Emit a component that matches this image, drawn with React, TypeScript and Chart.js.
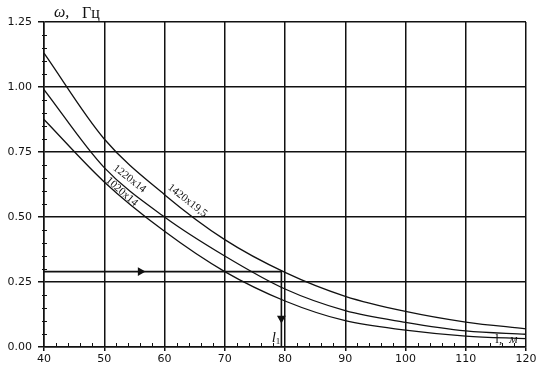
import React, { useEffect, useRef } from "react";
import { Chart, registerables } from "chart.js";

Chart.register(...registerables);

const lengths = [40, 50, 60, 70, 80, 90, 100, 110, 120];
const pipe1420 = [1.13, 0.8, 0.586, 0.413, 0.287, 0.195, 0.137, 0.096, 0.07];
const pipe1220 = [0.99, 0.69, 0.5, 0.35, 0.223, 0.14, 0.095, 0.062, 0.049];
const pipe1020 = [0.875, 0.635, 0.445, 0.29, 0.177, 0.101, 0.065, 0.042, 0.032];
const seriesLabels = ["1420x19,5", "1220x14", "1020x14"];

// construction line: read-off from ω to l1
const guideX = [40, 56, 79.4, 79.4, 79.4];
const guideY = [0.29, 0.29, 0.29, 0.11, 0];

const xTicks = [40, 50, 60, 70, 80, 90, 100, 110, 120];
const yTicks = [0, 0.25, 0.5, 0.75, 1.0, 1.25];

// label anchors (data coords) and angles
const curveLabelPos = [
  { x: 63.8, y: 0.563, angle: 38 },
  { x: 54.2, y: 0.647, angle: 38 },
  { x: 52.9, y: 0.597, angle: 41 },
];

const toPts = (ys: number[]) => lengths.map((x, i) => ({ x, y: ys[i] }));

const annotations = {
  id: "annotations",
  afterDraw(chart: any) {
    const { ctx, scales } = chart;
    const xs = scales.x;
    const ys = scales.y;
    ctx.save();
    // minor ticks
    ctx.strokeStyle = "#111";
    ctx.lineWidth = 1;
    ctx.beginPath();
    for (let v = 0.05; v < 1.25; v += 0.05) {
      const r = Math.round(v * 100) / 100;
      if (Math.abs(r / 0.25 - Math.round(r / 0.25)) < 1e-6) continue;
      const py = Math.round(ys.getPixelForValue(r)) + 0.5;
      ctx.moveTo(xs.left - 2, py);
      ctx.lineTo(xs.left + 3, py);
    }
    for (let v = 42; v < 120; v += 2) {
      if (v % 10 === 0) continue;
      const px = Math.round(xs.getPixelForValue(v)) + 0.5;
      ctx.moveTo(px, ys.bottom);
      ctx.lineTo(px, ys.bottom - 4);
    }
    ctx.stroke();

    ctx.fillStyle = "#111";
    // curve labels
    ctx.font = "11px 'Liberation Serif'";
    ctx.textAlign = "center";
    ctx.textBaseline = "middle";
    curveLabelPos.forEach((p, i) => {
      const px = xs.getPixelForValue(p.x);
      const py = ys.getPixelForValue(p.y);
      ctx.save();
      ctx.translate(px, py);
      ctx.rotate((p.angle * Math.PI) / 180);
      ctx.fillText(seriesLabels[i], 0, 0);
      ctx.restore();
    });

    // y axis title
    ctx.font = "italic 16px 'Liberation Serif'";
    ctx.textAlign = "left";
    ctx.textBaseline = "alphabetic";
    ctx.fillText("ω,", xs.left + 10, 17);
    ctx.font = "16px 'Liberation Serif'";
    ctx.fillText("Гц", xs.left + 38, 18);

    // l1 label
    const lx = xs.getPixelForValue(78.3);
    const ly = ys.getPixelForValue(0.02);
    ctx.font = "italic 15px 'Liberation Serif'";
    ctx.fillText("l", lx - 3, ly);
    ctx.font = "9px 'Liberation Serif'";
    ctx.fillText("1", lx + 1, ly + 2);

    // x axis title
    ctx.font = "13px 'Liberation Serif'";
    ctx.fillText("l,", xs.getPixelForValue(114.9), ys.getPixelForValue(0.014));
    ctx.font = "italic 13px 'Liberation Serif'";
    ctx.fillText("м", xs.getPixelForValue(117.2), ys.getPixelForValue(0.014));
    ctx.restore();
  },
};

export default function App() {
  const ref = useRef<HTMLCanvasElement>(null);
  useEffect(() => {
    if (!ref.current) return;
    Chart.defaults.font.family = "'DejaVu Sans', sans-serif";
    Chart.defaults.font.size = 11;
    Chart.defaults.color = "#111";
    const lineStyle = {
      borderColor: "#111",
      borderWidth: 1.3,
      pointRadius: 0,
      fill: false,
      cubicInterpolationMode: "monotone" as const,
    };
    const chart = new Chart(ref.current, {
      type: "line",
      data: {
        datasets: [
          { label: seriesLabels[0], data: toPts(pipe1420), ...lineStyle },
          { label: seriesLabels[1], data: toPts(pipe1220), ...lineStyle },
          { label: seriesLabels[2], data: toPts(pipe1020), ...lineStyle },
          {
            label: "guide",
            data: guideX.map((x, i) => ({ x, y: guideY[i] })),
            borderColor: "#111",
            borderWidth: 1.6,
            tension: 0,
            fill: false,
            pointStyle: "triangle",
            backgroundColor: "#111",
            pointBorderColor: "#111",
            pointRadius: (c: any) => (c.dataIndex === 1 || c.dataIndex === 3 ? 3.5 : 0),
            pointRotation: (c: any) => (c.dataIndex === 1 ? 90 : 180),
          },
        ],
      },
      options: {
        responsive: false,
        animation: false,
        devicePixelRatio: 1,
        layout: { padding: { top: 22, right: 16, left: 0, bottom: 0 } },
        plugins: { legend: { display: false }, tooltip: { enabled: false } },
        scales: {
          x: {
            type: "linear",
            min: 40,
            max: 120,
            afterFit: (s: any) => {
              s.height = 21;
            },
            afterBuildTicks: (s: any) => {
              s.ticks = xTicks.map((v) => ({ value: v }));
            },
            ticks: { padding: 2, color: "#111", font: { size: 11 } },
            grid: { color: "#111", lineWidth: 1.5, tickLength: 4, tickColor: "#111" },
            border: { color: "#111", width: 1.5 },
          },
          y: {
            min: 0,
            max: 1.25,
            afterFit: (s: any) => {
              s.width = 44;
            },
            afterBuildTicks: (s: any) => {
              s.ticks = yTicks.map((v) => ({ value: v }));
            },
            ticks: {
              padding: 6,
              color: "#111",
              font: { size: 11 },
              callback: (v: any) => Number(v).toFixed(2),
            },
            grid: { color: "#111", lineWidth: 1.5, tickLength: 6, tickColor: "#111" },
            border: { color: "#111", width: 1.5 },
          },
        },
      },
      plugins: [annotations],
    });
    return () => chart.destroy();
  }, []);
  return (
    <div style={{ position: "fixed", left: 0, top: 0, width: 542, height: 368, background: "#fff" }}>
      <canvas ref={ref} width={542} height={368} style={{ width: 542, height: 368 }} />
    </div>
  );
}
